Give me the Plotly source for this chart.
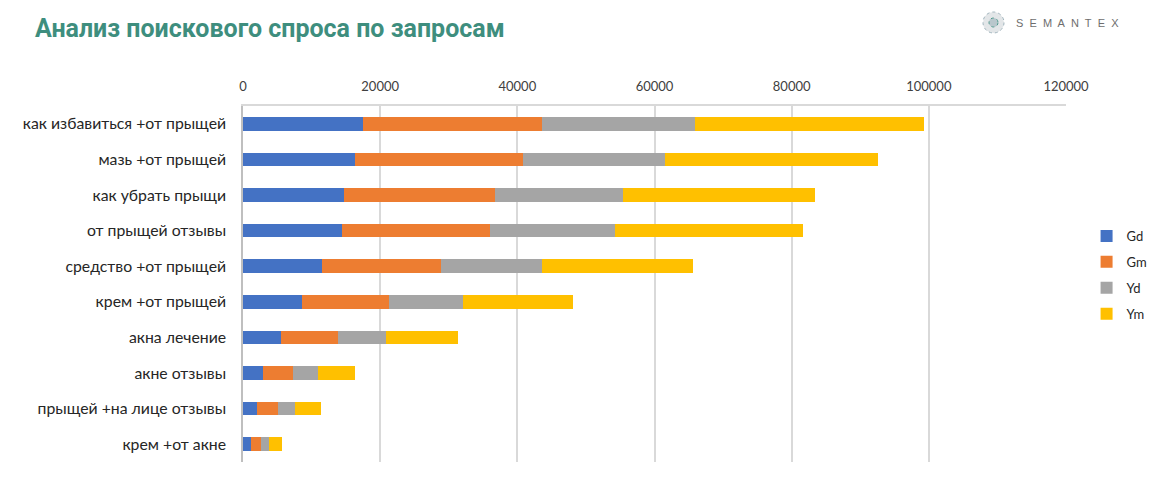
import plotly.graph_objects as go

# поисковые запросы (сверху вниз)
queries = [
    "как избавиться +от прыщей",
    "мазь +от прыщей",
    "как убрать прыщи",
    "от прыщей отзывы",
    "средство +от прыщей",
    "крем +от прыщей",
    "акна лечение",
    "акне отзывы",
    "прыщей +на лице отзывы",
    "крем +от акне",
]

gd = [17550, 16340, 14730, 14400, 11570, 8560, 5540, 2970, 2040, 1120]
gm = [26050, 24510, 22030, 21580, 17360, 12740, 8270, 4320, 3020, 1510]
yd = [22240, 20610, 18630, 18290, 14640, 10750, 7050, 3700, 2480, 1210]
ym = [33410, 31170, 27950, 27330, 22030, 16090, 10460, 5400, 3840, 1900]

series = [("Gd", gd, "#4472C4"), ("Gm", gm, "#ED7D31"),
          ("Yd", yd, "#A5A5A5"), ("Ym", ym, "#FFC000")]

W, H = 1168, 469            # страница добавляет отступ 8px
L, R, T, B = 235, 110, 98, 15
PW, PH = W - L - R, H - T - B


def px_x(p):
    # пиксель страницы -> доля области построения
    return (p - 8 - L) / PW


def px_y(p):
    return 1 - (p - 8 - T) / PH


fig = go.Figure()
for name, vals, col in series:
    fig.add_trace(go.Bar(
        y=queries, x=vals, name=name, orientation="h",
        marker=dict(color=col, line=dict(width=0)),
        legendgroup=name,
    ))

fig.update_layout(
    width=W, height=H,
    barmode="stack", bargap=0.62,
    plot_bgcolor="white", paper_bgcolor="white",
    margin=dict(l=L, r=R, t=T, b=B, autoexpand=False),
    font=dict(family="Lato, Open Sans, sans-serif", color="#262626"),
    showlegend=True,
    legend=dict(x=1.025, y=px_y(221), xanchor="left", yanchor="top",
                traceorder="grouped", tracegroupgap=6, itemwidth=30,
                font=dict(size=13)),
    title=dict(text="<b>Анализ поискового спроса по запросам</b>",
               x=27 / W, xanchor="left", y=1 - 20 / H, yanchor="middle",
               pad=dict(l=0, t=0, b=0, r=0),
               font=dict(family="Roboto, Liberation Sans, sans-serif",
                         size=25, color="#3E8E7E")),
)

fig.update_xaxes(side="top", range=[0, 120000], dtick=20000, tickformat="d",
                 showgrid=True, gridcolor="#D9D9D9", gridwidth=1.5,
                 showline=True, linecolor="#D9D9D9", linewidth=1.5,
                 zeroline=False, ticks="", automargin=False,
                 tickfont=dict(size=13, color="#404040"),
                 ticklabelstandoff=8)
fig.update_yaxes(autorange="reversed", showline=True, linecolor="#BFBFBF",
                 linewidth=1.5, ticks="", automargin=False,
                 tickfont=dict(size=15.8), ticklabelstandoff=12)

# логотип
fig.add_shape(type="circle", xref="paper", yref="paper",
              x0=px_x(983), x1=px_x(1004), y0=px_y(33), y1=px_y(12),
              fillcolor="#E3E6E8", line=dict(color="#9FB3BC", width=1, dash="dot"))
fig.add_shape(type="circle", xref="paper", yref="paper",
              x0=px_x(989), x1=px_x(998), y0=px_y(27), y1=px_y(18),
              fillcolor="#B9C7CC", line=dict(color="#4F9A8E", width=1, dash="dot"))
fig.add_annotation(xref="paper", yref="paper",
                   x=px_x(1014), y=px_y(23),
                   xanchor="left", yanchor="middle", showarrow=False,
                   text="S&nbsp; E&nbsp; M&nbsp; A&nbsp; N&nbsp; T&nbsp; E&nbsp; X",
                   font=dict(family="Liberation Sans, Arial", size=11, color="#6E6E6E"))

fig.write_html("out.html")
